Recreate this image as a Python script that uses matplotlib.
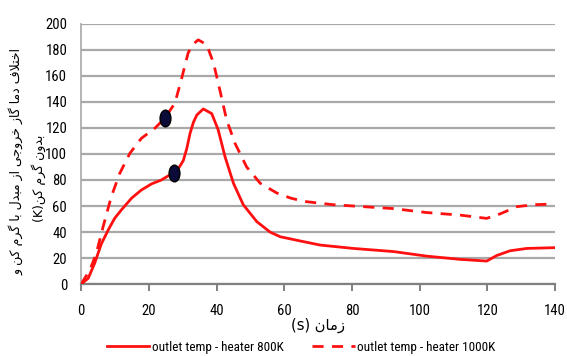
#!/usr/bin/env python3
# outlet temperature difference, heater 800K vs 1000K
import numpy as np
import matplotlib
matplotlib.use("Agg")
import matplotlib.pyplot as plt
from matplotlib.markers import MarkerStyle
from matplotlib.transforms import Affine2D

# ----------------------------- Data -----------------------------
t_800 = [0, 2.1, 4.0, 6.0, 8.0, 9.9, 11.9, 14.9, 17.8, 20.8, 23.7, 27.3, 28.8, 30.2, 31.2,
         32.2, 33.2, 34.2, 36.1, 38.6, 40.5, 42.5, 45, 47.9, 51.9, 55.8, 58.8, 65, 70.6,
         80.4, 92.3, 102, 112, 119.8, 122.8, 126.7, 131.6, 140]
dT_800 = [0, 4.4, 16, 31, 41.5, 50.5, 57, 66, 72.3, 77, 80, 85.6, 89, 95, 104,
          116, 124.5, 130, 134.6, 131, 118.5, 98, 77.5, 61, 48, 40, 36.4, 33, 30,
          27.4, 25, 21.5, 19, 17.7, 22, 25.6, 27.4, 28]

t_1000 = [0, 2.6, 4.5, 6.5, 8.9, 11.4, 14.4, 17.8, 21.8, 24.7, 27.7, 29.6, 31.6, 32.9, 34.6,
          37.1, 39.1, 41, 43, 45.5, 48.9, 52.9, 57.8, 62, 66, 74.5, 92.3, 102, 112,
          119.8, 123.8, 128.7, 133.6, 139.5]
dT_1000 = [0, 10.8, 23.6, 44, 67, 85, 100.5, 112, 119.8, 127.4, 139, 157, 177.5, 184, 187.7,
           184, 170, 149, 126, 108, 90, 77.5, 70, 66, 63.5, 61, 58, 55, 53,
           50.5, 54, 59.5, 61, 61.5]

mark_t = [24.7, 27.5]
mark_dT = [127.4, 85.6]

x_ticks = [0, 20, 40, 60, 80, 100, 120, 140]
y_ticks = [0, 20, 40, 60, 80, 100, 120, 140, 160, 180, 200]

ylabel_1 = "اختلاف دما گاز خروجی از مبدل با گرم کن و"
ylabel_2 = "بدون گرم کن(K)"
xlabel_fa = "زمان"
labels = ["outlet temp - heater 800K", "outlet temp - heater 1000K"]

# ----------------------------- Helpers -----------------------------
# isolated, final, initial, medial
FORMS = {
    "ا": ("\uFE8D", "\uFE8E", None, None),
    "ب": ("\uFE8F", "\uFE90", "\uFE91", "\uFE92"),
    "ت": ("\uFE95", "\uFE96", "\uFE97", "\uFE98"),
    "ج": ("\uFE9D", "\uFE9E", "\uFE9F", "\uFEA0"),
    "خ": ("\uFEA5", "\uFEA6", "\uFEA7", "\uFEA8"),
    "د": ("\uFEA9", "\uFEAA", None, None),
    "ر": ("\uFEAD", "\uFEAE", None, None),
    "ز": ("\uFEAF", "\uFEB0", None, None),
    "ف": ("\uFED1", "\uFED2", "\uFED3", "\uFED4"),
    "ل": ("\uFEDD", "\uFEDE", "\uFEDF", "\uFEE0"),
    "م": ("\uFEE1", "\uFEE2", "\uFEE3", "\uFEE4"),
    "ن": ("\uFEE5", "\uFEE6", "\uFEE7", "\uFEE8"),
    "و": ("\uFEED", "\uFEEE", None, None),
    "ک": ("\uFB8E", "\uFB8F", "\uFB90", "\uFB91"),
    "گ": ("\uFB92", "\uFB93", "\uFB94", "\uFB95"),
    "ی": ("\uFBFC", "\uFBFD", "\uFBFE", "\uFBFF"),
}

def shape_word(word):
    """Join letters with presentation forms, return in logical order."""
    out = []
    i = 0
    chars = list(word)
    n = len(chars)
    while i < n:
        c = chars[i]
        if c not in FORMS:
            out.append(c)
            i += 1
            continue
        prev_joins = i > 0 and chars[i - 1] in FORMS and FORMS[chars[i - 1]][2] is not None
        # lam-alef ligature
        if c == "ل" and i + 1 < n and chars[i + 1] == "ا":
            out.append("\uFEFC" if prev_joins else "\uFEFB")
            i += 2
            continue
        next_ok = i + 1 < n and chars[i + 1] in FORMS and FORMS[c][2] is not None
        iso, fin, ini, med = FORMS[c]
        if prev_joins and next_ok:
            out.append(med)
        elif prev_joins:
            out.append(fin)
        elif next_ok:
            out.append(ini)
        else:
            out.append(iso)
        i += 1
    return "".join(out)

def rtl(text):
    """Shape Persian words and reverse for left-to-right drawing."""
    s = shape_word(text)
    flip = {"(": ")", ")": "("}
    return "".join(flip.get(ch, ch) for ch in reversed(s))

# ----------------------------- Plot -----------------------------
plt.rcParams["font.family"] = ["Roboto Condensed", "DejaVu Sans"]

fig = plt.figure(figsize=(5.67, 3.56), dpi=100)
ax = fig.add_axes([0.143, 0.202, 0.836, 0.731])

red = "#ff1010"
ax.plot(t_800, dT_800, color=red, lw=2.0, label=labels[0], zorder=3)
ax.plot(t_1000, dT_1000, color=red, lw=2.0, ls=(0, (4, 3)), label=labels[1], zorder=3)

oval = MarkerStyle("o", transform=Affine2D().scale(0.65, 1.0))
ax.plot(mark_t, mark_dT, ls="none", marker=oval, ms=12, mfc="#0b0b3a",
        mec="black", mew=1, zorder=4)

ax.set_xlim(0, 140)
ax.set_ylim(0, 200)
ax.set_xticks(x_ticks)
ax.set_yticks(y_ticks)
ax.yaxis.grid(True, color="#a8a8a8", lw=1.6)
ax.set_axisbelow(True)
for s in ["top", "right"]:
    ax.spines[s].set_visible(False)
ax.spines["left"].set_color("#a8a8a8")
ax.spines["left"].set_linewidth(1.2)
ax.spines["bottom"].set_color("#808080")
ax.spines["bottom"].set_linewidth(1.6)
ax.tick_params(axis="x", direction="out", length=5, width=1.4, color="#808080",
               labelsize=10.5, pad=9)
ax.tick_params(axis="y", length=0, labelsize=10.5, pad=10)

# x label, visually "(s) زمان"
fig.text(0.56, 0.085, "(s) " + rtl(xlabel_fa), ha="center", va="center",
         fontsize=10.5, family=["DejaVu Sans"])

# y label, two rotated lines
fig.text(0.028, 0.545, rtl(ylabel_1), rotation=90, ha="center", va="center",
         fontsize=9, family=["DejaVu Sans"])
fig.text(0.068, 0.50, rtl(ylabel_2), rotation=90, ha="center", va="center",
         fontsize=9, family=["DejaVu Sans"])

fig.legend(loc="center", bbox_to_anchor=(0.531, 0.025), ncol=2, frameon=False,
           fontsize=9.5, handlelength=3.2, handletextpad=0.2, columnspacing=2.2)

fig.savefig("out.png", dpi=100)
